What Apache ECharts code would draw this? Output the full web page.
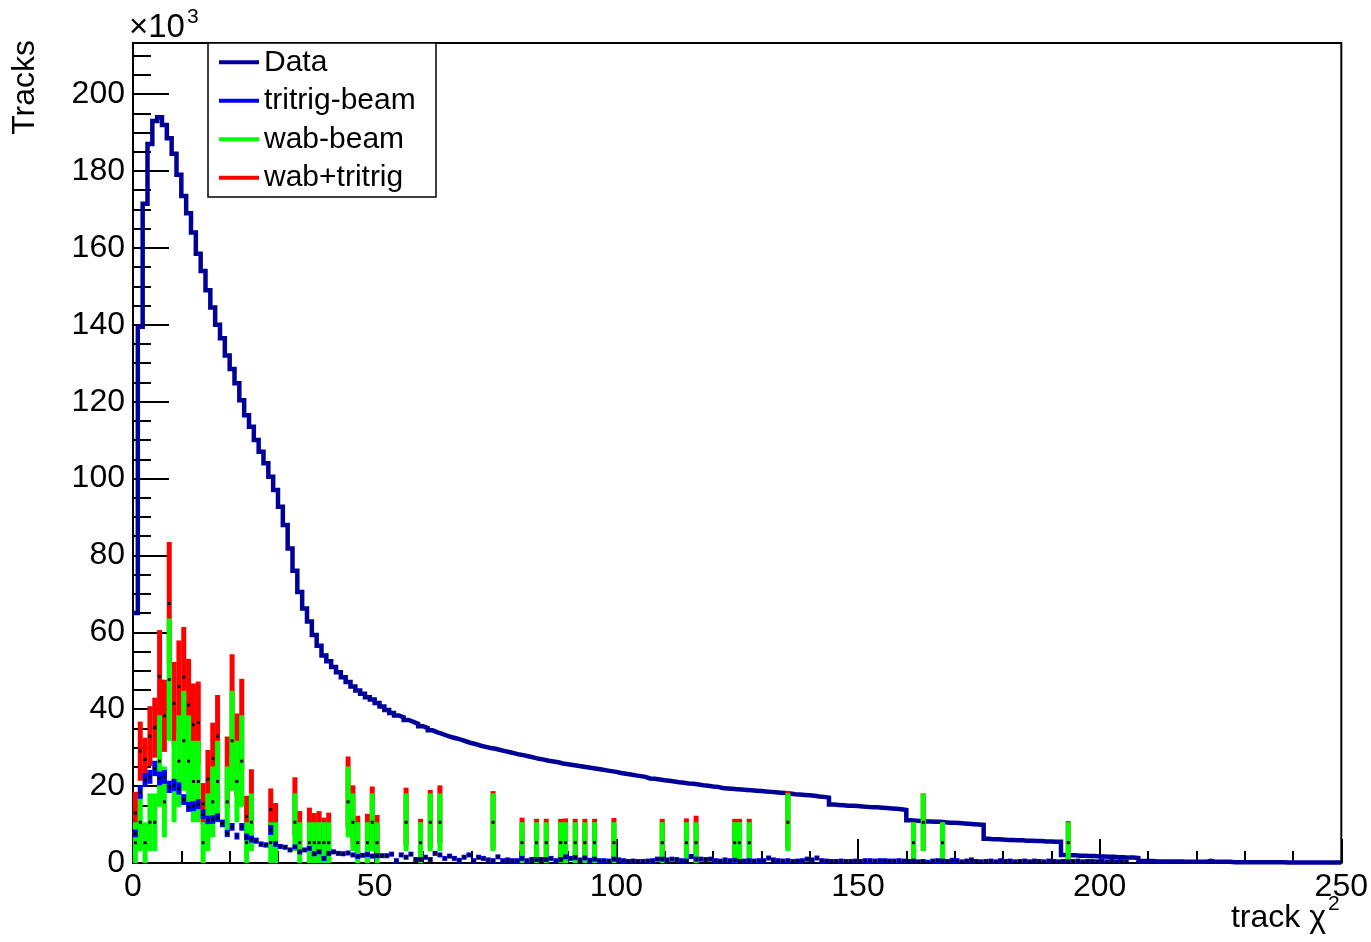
<!DOCTYPE html>
<html><head><meta charset="utf-8">
<script src="https://cdn.jsdelivr.net/npm/echarts@6/dist/echarts.min.js"></script>
<style>html,body{margin:0;padding:0;background:#fff}#c{width:1371px;height:942px}</style>
</head><body><div id="c"></div>
<script>
// ---- data (values in thousands of tracks), bin width 1 in track chi2 ----
const binWidth = 1;
const seriesNames = ['Data', 'tritrig-beam', 'wab-beam', 'wab+tritrig'];

// Data histogram, bins 0..249
const dataVals = [
 65, 139.5, 171.5, 187, 193, 194, 192, 188.5, 184.5, 179,
 173.5, 169, 164, 158.5, 154, 149, 144.5, 140, 136.5, 132,
 128.5, 124.8, 120.4, 116.5, 113.5, 110, 107, 104, 100.5, 97,
 92.7, 87.9, 81.8, 76, 70.5, 66.2, 62.8, 59.3, 56.5, 54,
 52.5, 51, 49.6, 48.3, 47.1, 45.9, 44.9, 44, 43.1, 42.5,
 41.6, 40.7, 39.8, 39, 38.4, 37.9, 37.2, 36.7, 36.2, 35.6,
 35.1, 34.5, 34, 33.6, 33.1, 32.7, 32.4, 32, 31.6, 31.2,
 30.9, 30.5, 30.2, 29.9, 29.7, 29.4, 29.1, 28.8, 28.5, 28.2,
 28, 27.7, 27.4, 27.1, 26.9, 26.6, 26.4, 26.2, 25.9, 25.7,
 25.5, 25.3, 25.1, 24.9, 24.7, 24.5, 24.3, 24.1, 23.9, 23.7,
 23.4, 23.2, 23.0, 22.8, 22.6, 22.4, 22.0, 21.9, 21.7, 21.5,
 21.4, 21.2, 21.0, 20.9, 20.7, 20.6, 20.4, 20.2, 20.1, 19.9,
 19.8, 19.5, 19.4, 19.3, 19.2, 19.1, 19.0, 18.9, 18.8, 18.7,
 18.6, 18.5, 18.4, 18.3, 18.2, 18.1, 17.9, 17.8, 17.7, 17.6,
 17.5, 17.3, 17.2, 17.0, 15.2, 15.1, 15.0, 14.9, 14.9, 14.8,
 14.7, 14.6, 14.5, 14.5, 14.4, 14.3, 14.2, 14.1, 14.0, 13.8,
 11.1, 11.0, 10.9, 10.8, 10.8, 10.7, 10.7, 10.6, 10.5, 10.5,
 10.4, 10.3, 10.2, 10.1, 10.0, 9.9, 6.3, 6.2, 6.2, 6.1,
 6.0, 6.0, 5.9, 5.9, 5.8, 5.8, 5.7, 5.7, 5.6, 5.6,
 5.5, 5.5, 2.1, 2.0, 2.0, 1.9, 1.9, 1.8, 1.8, 1.7,
 1.7, 1.6, 1.6, 1.5, 1.5, 1.4, 1.4, 1.3, 0.5, 0.5,
 0.5, 0.4, 0.4, 0.4, 0.4, 0.4, 0.4, 0.3, 0.3, 0.3,
 0.3, 0.3, 0.6, 0.3, 0.3, 0.3, 0.3, 0.2, 0.2, 0.2,
 0.2, 0.2, 0.2, 0.2, 0.2, 0.2, 0.2, 0.2, 0.1, 0.1,
 0.1, 0.1, 0.1, 0.1, 0.1, 0.1, 0.1, 0.1, 0.1, 0.1
];

// tritrig-beam, bins 0..205
const triVals = [
 7.7, 18.5, 21.6, 22.4, 24.6, 22.0, 22.4, 19.8, 20.3, 19.4,
 16.5, 14.6, 14.8, 15.3, 12.7, 11.2, 11.3, 11.8, 10.3, 7.7,
 9.4, 7.0, 9.4, 6.8, 6.2, 5.8, 4.9, 4.7, 8.6, 4.9,
 4.3, 4.1, 3.4, 4.2, 2.9, 3.4, 3.8, 2.4, 2.9, 1.2,
 2.5, 2.9, 2.5, 2.4, 2.6, 2.1, 1.7, 2.0, 2.2, 1.8,
 1.9, 1.9, 1.9, 2.3, 0.6, 2.1, 1.5, 2.3, 0.9, 0.9,
 1.5, 0.9, 2.5, 2.1, 1.2, 1.8, 1.2, 0.7, 1.5, 2.1,
 0.6, 1.5, 1.2, 0.8, 0.6, 1.6, 0.6, 0.8, 0.6, 0.6,
 1.2, 0.6, 0.9, 0.9, 0.9, 0.9, 1.2, 0.6, 0.9, 1.6,
 1.2, 1.4, 0.8, 1.3, 0.7, 1.0, 0.6, 0.6, 0.5, 1.0,
 0.8, 0.6, 0.4, 0.5, 0.4, 0.4, 0.5, 0.6, 1.0, 1.0,
 0.8, 1.0, 0.9, 0.6, 0.5, 1.7, 1.0, 1.0, 0.9, 1.0,
 0.6, 0.5, 0.8, 0.6, 0.7, 0.4, 0.5, 0.6, 0.5, 0.6,
 0.6, 1.3, 0.8, 0.6, 0.5, 0.6, 0.4, 0.5, 0.6, 1.0,
 0.8, 1.3, 0.6, 0.5, 0.4, 0.4, 0.5, 0.4, 0.4, 0.5,
 0.4, 0.6, 0.6, 0.5, 0.6, 0.6, 0.5, 0.5, 0.6, 0.5,
 0.4, 0.5, 0.3, 0.4, 0.2, 0.5, 0.6, 0.5, 0.4, 0.7,
 0.6, 0.3, 0.5, 0.8, 0.4, 0.3, 0.4, 0.5, 0.3, 0.6,
 0.4, 0.5, 0.3, 0.4, 0.5, 0.3, 0.5, 0.4, 0.3, 0.5,
 0.4, 0.3, 0.4, 0.3, 0.4, 0.5, 0.3, 0.4, 0.4, 0.3,
 0.5, 0.3, 0.4, 0.3, 0.4, 0.3
];
// tritrig-beam errors, bins 0..52
const triErrs = [
 1.0, 1.8, 1.8, 1.8, 2.0, 1.8, 1.8, 1.6, 1.6, 1.6,
 1.4, 1.3, 1.3, 1.3, 1.2, 1.1, 1.1, 1.1, 1.0, 0.9,
 1.0, 0.9, 1.0, 0.9, 0.9, 0.8, 0.7, 0.7, 1.3, 0.7,
 0.6, 0.6, 0.6, 0.6, 0.6, 0.6, 0.6, 0.6, 0.6, 0.6,
 0.6, 0.6, 0.6, 0.6, 0.6, 0.6, 0.6, 0.6, 0.6, 0.6,
 0.6, 0.6, 0.6
];

// wab-beam (filled bins only)
const wabBins = [0,1,2,3,4,5,6,7,8,9,10,11,12,13,14,15,16,17,19,20,21,22,23,24,28,29,33,34,36,37,38,39,40,44,45,46,48,49,50,56,59,61,63,74,80,83,85,88,89,91,93,95,99,109,114,116,124,125,127,135,161,163,167,193];
const wabVals = [5.3,10.6,5.3,10.6,10.6,26.5,15.9,47.7,21.2,26.5,31.8,26.5,21.2,21.2,5.3,10.6,15.9,21.2,15.9,31.8,21.2,26.5,5.3,10.6,5.3,5.3,10.6,5.3,5.3,5.3,5.3,5.3,5.3,15.9,10.6,5.3,5.3,10.6,5.3,10.6,5.3,10.6,10.6,10.6,5.3,5.3,5.3,5.3,5.3,5.3,5.3,5.3,5.3,5.3,5.3,5.3,5.3,5.3,5.3,10.6,5.3,10.6,5.3,5.3];
const wabErrs = [5.3,7.5,5.3,7.5,7.5,11.9,9.2,15.9,10.6,11.9,13.0,11.9,10.6,10.6,5.3,7.5,9.2,10.6,9.2,13.0,10.6,11.9,5.3,7.5,5.3,5.3,7.5,5.3,5.3,5.3,5.3,5.3,5.3,9.2,7.5,5.3,5.3,7.5,5.3,7.5,5.3,7.5,7.5,7.5,5.3,5.3,5.3,5.3,5.3,5.3,5.3,5.3,5.3,5.3,5.3,5.3,5.3,5.3,5.3,7.5,5.3,7.5,5.3,5.3];

// wab+tritrig (same filled bins)
const sumBins = wabBins;
const sumVals = [13.0,29.1,26.9,33.0,35.2,48.5,38.3,67.5,41.5,45.9,48.3,41.1,36.0,36.5,15.4,21.8,27.2,33.0,23.6,41.2,28.2,35.9,12.1,16.8,13.9,10.2,14.8,8.2,9.1,7.7,8.2,6.5,7.8,18.5,12.7,7.0,7.5,12.4,7.2,12.1,6.2,11.5,12.7,11.2,6.5,6.2,6.2,6.2,6.3,6.2,6.2,6.2,6.4,6.2,6.3,7.0,6.2,6.2,6.2,11.2,5.3,10.6,5.3,5.6];
const sumErrs = [5.5,7.7,5.7,7.8,7.8,12.1,9.4,16.0,10.8,12.0,13.1,12.0,10.7,10.7,5.4,7.6,9.3,10.7,9.3,13.1,10.7,12.0,5.4,7.6,5.5,5.4,7.5,5.3,5.3,5.3,5.3,5.3,5.3,9.2,7.5,5.3,5.3,7.5,5.3,7.5,5.3,7.5,7.5,7.5,5.3,5.3,5.3,5.3,5.3,5.3,5.3,5.3,5.3,5.3,5.3,5.3,5.3,5.3,5.3,7.5,5.3,7.5,5.3,5.3];

// ---- chart ----
const FONT = "'Liberation Sans', Arial, Helvetica, sans-serif";
const C_DATA = '#000099', C_TRI = '#0000ff', C_WAB = '#00ff00', C_SUM = '#ff0000';
const yMax = 213.3;

const dataLine = dataVals.map((v, i) => [i * binWidth, v]);
dataLine.push([dataVals.length * binWidth, dataVals[dataVals.length - 1]]);

const triData = triVals.map((v, i) => [i * binWidth + binWidth / 2, v, triErrs[i] !== undefined ? triErrs[i] : 0]);
const wabData = wabBins.map((b, i) => [b * binWidth + binWidth / 2, wabVals[i], wabErrs[i]]);
const sumData = sumBins.map((b, i) => [b * binWidth + binWidth / 2, sumVals[i], sumErrs[i]]);

function errBar(color, w, minH) {
  return function (params, api) {
    const x = api.value(0), y = api.value(1), e = api.value(2);
    const c = api.coord([x, y]);
    const top = api.coord([x, y + e]);
    const zero = api.coord([x, 0]);
    const bot = api.coord([x, Math.max(y - e, 0)]);
    let y0 = top[1], h = bot[1] - top[1];
    if (h < minH) { y0 = c[1] - minH / 2; h = minH; }
    if (y0 + h > zero[1]) { h = zero[1] - y0; }
    return {
      type: 'group',
      children: [
        { type: 'rect', shape: { x: c[0] - w / 2, y: y0, width: w, height: h }, style: { fill: color } },
        { type: 'rect', shape: { x: c[0] - 1.5, y: c[1] - 1.5, width: 3, height: 3 }, style: { fill: '#000' } }
      ]
    };
  };
}

const chart = echarts.init(document.getElementById('c'), null, { renderer: 'canvas', width: 1371, height: 942 });
const option = {
  animation: false,
  backgroundColor: '#fff',
  grid: { left: 133, right: 29, top: 43, bottom: 79, show: true, borderColor: '#000', borderWidth: 2, backgroundColor: 'transparent' },
  xAxis: {
    type: 'value', min: 0, max: 250, interval: 50,
    axisLine: { lineStyle: { color: '#000', width: 2 } },
    axisTick: { inside: true, length: 24, lineStyle: { color: '#000', width: 2 } },
    minorTick: { show: true, splitNumber: 5, length: 12, lineStyle: { color: '#000', width: 2 } },
    splitLine: { show: false },
    axisLabel: { color: '#000', fontSize: 32, fontFamily: FONT, margin: 8, showMinLabel: true, showMaxLabel: true }
  },
  yAxis: [
    {
      type: 'value', min: 0, max: yMax, interval: 20,
      axisLine: { show: true, lineStyle: { color: '#000', width: 2 } },
      axisTick: { inside: true, length: 36, lineStyle: { color: '#000', width: 2 } },
      splitLine: { show: false },
      axisLabel: { color: '#000', fontSize: 32, fontFamily: FONT, margin: 8, showMaxLabel: false,
        formatter: v => (Math.abs(v % 20) < 1e-6 ? String(v) : '') }
    },
    {
      type: 'value', min: 0, max: yMax, interval: 5, position: 'left',
      axisLine: { show: false },
      axisTick: { inside: true, length: 18, lineStyle: { color: '#000', width: 2 } },
      splitLine: { show: false },
      axisLabel: { show: false }
    }
  ],
  legend: {
    left: 214, top: 43, orient: 'vertical', itemGap: 0, itemWidth: 40, itemHeight: 4, icon: 'rect',
    padding: [0, 5, 0, 5], selectedMode: false, z: 20,
    textStyle: { fontSize: 30, fontFamily: FONT, color: '#000', lineHeight: 38.5 },
    data: [
      { name: seriesNames[0], itemStyle: { color: C_DATA } },
      { name: seriesNames[1], itemStyle: { color: C_TRI } },
      { name: seriesNames[2], itemStyle: { color: C_WAB } },
      { name: seriesNames[3], itemStyle: { color: C_SUM } }
    ]
  },
  graphic: [
    { type: 'rect', z: 15, shape: { x: 208, y: 43, width: 228, height: 154 }, style: { fill: '#fff', stroke: '#000', lineWidth: 1.5 } },
    { type: 'text', z: 15, x: 129, y: 28, style: { text: '×10', fontSize: 33, fontFamily: FONT, fill: '#000', align: 'left', verticalAlign: 'middle' } },
    { type: 'text', z: 15, x: 187, y: 17, style: { text: '3', fontSize: 21, fontFamily: FONT, fill: '#000', align: 'left', verticalAlign: 'middle' } },
    { type: 'text', z: 15, x: 25, y: 40, rotation: Math.PI / 2, style: { text: 'Tracks', fontSize: 32, fontFamily: FONT, fill: '#000', align: 'right', verticalAlign: 'middle' } },
    { type: 'text', z: 15, x: 1326, y: 918, style: { text: 'track χ', fontSize: 32, fontFamily: FONT, fill: '#000', align: 'right', verticalAlign: 'middle' } },
    { type: 'text', z: 15, x: 1328, y: 904, style: { text: '2', fontSize: 21, fontFamily: FONT, fill: '#000', align: 'left', verticalAlign: 'middle' } }
  ],
  series: [
    { name: seriesNames[0], type: 'line', data: dataLine, step: 'end', symbol: 'none', showSymbol: false, z: 2,
      lineStyle: { color: C_DATA, width: 4.5, join: 'miter' }, itemStyle: { color: C_DATA } },
    { name: seriesNames[3], type: 'custom', data: sumData, z: 3, itemStyle: { color: C_SUM },
      dimensions: ['x', 'y', 'err'], encode: { x: 'x', y: 'y' }, renderItem: errBar(C_SUM, 5, 2) },
    { name: seriesNames[2], type: 'custom', data: wabData, z: 4, itemStyle: { color: C_WAB },
      dimensions: ['x', 'y', 'err'], encode: { x: 'x', y: 'y' }, renderItem: errBar(C_WAB, 5, 2) },
    { name: seriesNames[1], type: 'custom', data: triData, z: 5, itemStyle: { color: C_TRI },
      dimensions: ['x', 'y', 'err'], encode: { x: 'x', y: 'y' }, renderItem: errBar(C_TRI, 5, 5) }
  ]
};
chart.setOption(option);
</script></body></html>
